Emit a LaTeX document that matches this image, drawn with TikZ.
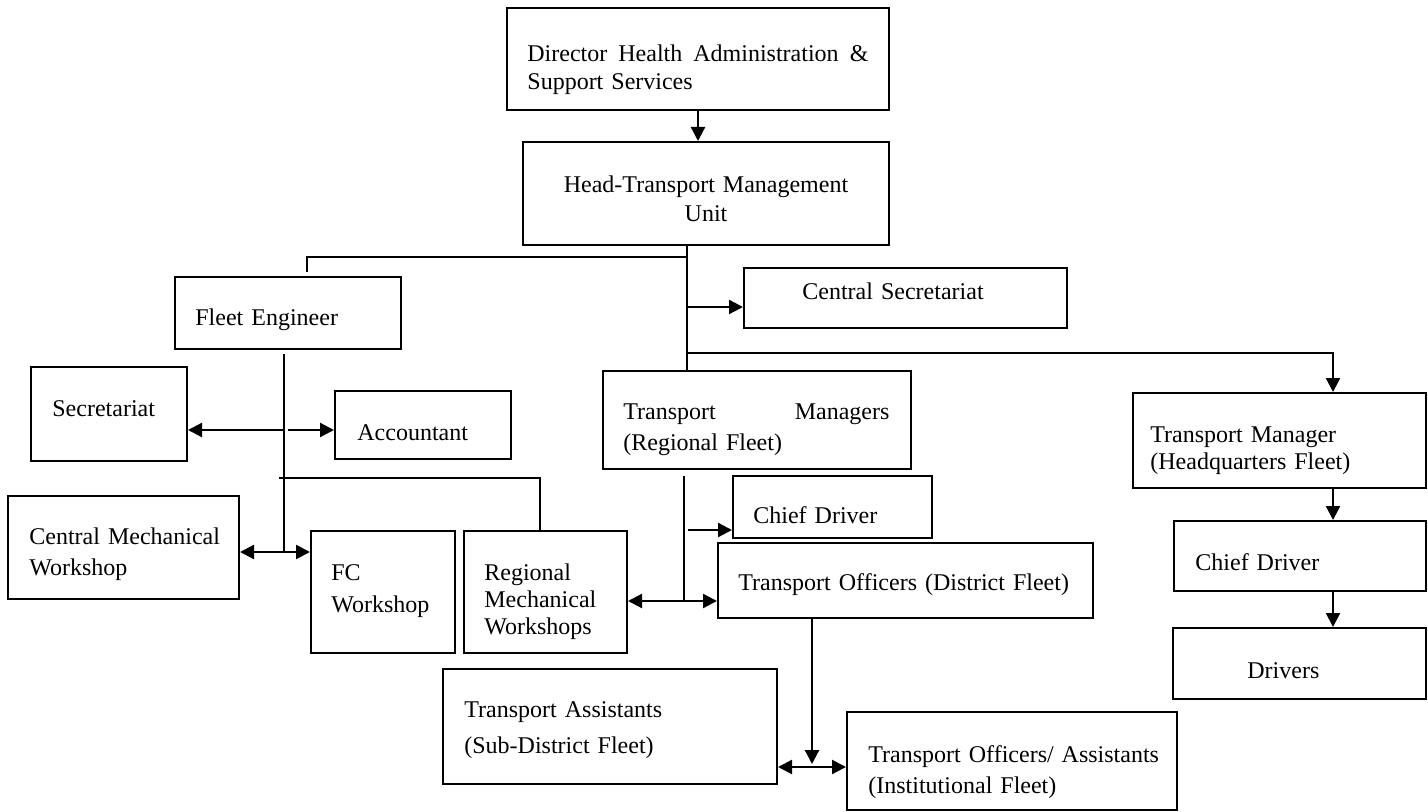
\documentclass[tikz,border=0pt]{standalone}
\usepackage{fontspec}
\setmainfont{Liberation Serif}
\usetikzlibrary{fit}
\usetikzlibrary{arrows.meta}

\tikzset{
  box/.style={draw,line width=1pt,inner sep=0pt},
  txt/.style={anchor=base west,inner sep=0pt,text width=190pt,align=left,font=\fontsize{12}{15.5}\selectfont},
  ln/.style={line width=1.1pt},
  arr/.style={line width=1.1pt,-{Triangle[length=7pt,width=7pt]}},
  darr/.style={line width=1.1pt,{Triangle[length=7pt,width=7pt]}-{Triangle[length=7pt,width=7pt]}}
}

\begin{document}
\begin{tikzpicture}[x=0.5pt,y=-0.5pt]
        \useasboundingbox (0,0) rectangle (1428,812);

        \node[box,fit={(507,8) (889,110)}] (dir) {};
        \node[box,fit={(523,142) (889,245)}] (head) {};
        \node[box,fit={(175,277) (401,349)}] (fleet) {};
        \node[box,fit={(744,268) (1067,328)}] (csec) {};
        \node[box,fit={(31,367) (187,461)}] (sec) {};
        \node[box,fit={(335,391) (511,459)}] (acc) {};
        \node[box,fit={(603,371) (911,469)}] (tmreg) {};
        \node[box,fit={(1133,393) (1426,488)}] (tmhq) {};
        \node[box,fit={(8,496) (239,599)}] (cmw) {};
        \node[box,fit={(733,476) (932,538)}] (cdmid) {};
        \node[box,fit={(1174,521) (1426,591)}] (cdhq) {};
        \node[box,fit={(311,531) (455,653)}] (fcw) {};
        \node[box,fit={(464,531) (627,653)}] (rmw) {};
        \node[box,fit={(718,543) (1093,618)}] (todist) {};
        \node[box,fit={(1173,628) (1426,699)}] (drv) {};
        \node[box,fit={(443,669) (777,784)}] (tasst) {};
        \node[box,fit={(847,712) (1177,810)}] (toinst) {};

        \node[txt] (dir-t) at (527,62) {\makebox[170.5pt]{Director\hfill Health\hfill Administration\hfill \&}\\[-1.5pt]Support Services};
        \node[txt,anchor=base,align=center] (head-t) at (706,193) {Head-Transport Management\\[-1pt]Unit};
        \node[txt] (fleet-t) at (195,326) {Fleet Engineer};
        \node[txt] (csec-t) at (802,300) {Central Secretariat};
        \node[txt] (sec-t) at (52,416) {Secretariat};
        \node[txt] (acc-t) at (357,440) {Accountant};
        \node[txt] (tmreg-t) at (623,419) {\makebox[133pt]{Transport\hfill Managers}\\(Regional Fleet)};
        \node[txt] (tmhq-t) at (1150,442) {Transport Manager\\[-2pt](Headquarters Fleet)};
        \node[txt] (cmw-t) at (29,544) {Central Mechanical\\Workshop};
        \node[txt] (cdmid-t) at (753,523) {Chief Driver};
        \node[txt] (cdhq-t) at (1195,570) {Chief Driver};
        \node[txt] (fcw-t) at (331,580) {FC\\[0.5pt]Workshop};
        \node[txt] (rmw-t) at (484,580) {Regional\\[-2pt]Mechanical\\[-2pt]Workshops};
        \node[txt] (todist-t) at (738,590) {Transport Officers (District Fleet)};
        \node[txt] (drv-t) at (1247,678) {Drivers};
        \node[txt] (tasst-t) at (464,717) {Transport Assistants\\[2.5pt](Sub-District Fleet)};
        \node[txt] (toinst-t) at (868,762) {Transport Officers/ Assistants\\(Institutional Fleet)};

        \coordinate (t0) at (687,245);
        \coordinate (t1) at (687,257);
        \coordinate (t2) at (687,307);
        \coordinate (t3) at (687,353);
        \coordinate (fe) at (307,272);
        \coordinate (hq) at (1333,353);
        \coordinate (f0) at (284,354);
        \coordinate (f1) at (284,430);
        \coordinate (f2) at (284,478);
        \coordinate (f3) at (284,552);
        \coordinate (rm) at (540,478);
        \coordinate (r0) at (684,476);
        \coordinate (r1) at (684,530);
        \coordinate (r2) at (684,601);
        \coordinate (d0) at (812,618);
        \coordinate (d1) at (812,767);

        \draw[arr] (dir.south) -- (dir.south |- head.north);
        \draw[ln] (t0) -- (t0 |- tmreg.north);
        \draw[ln] (t1) -| (fe);
        \draw[arr] (t2) -- (t2 -| csec.west);
        \draw[arr] (t3) -- (hq) -- (hq |- tmhq.north);
        \draw[arr] (hq |- tmhq.south) -- (hq |- cdhq.north);
        \draw[arr] (hq |- cdhq.south) -- (hq |- drv.north);
        \draw[ln] (f0) -- (f3);
        \draw[arr] (f1) -- (f1 -| sec.east);
        \draw[arr] ([xshift=2pt]f1) -- (f1 -| acc.west);
        \draw[ln] ([xshift=-2.5pt]f2) -| (rm |- rmw.north);
        \draw[darr] (f3 -| cmw.east) -- (f3 -| fcw.west);
        \draw[ln] (r0) -- (r2);
        \draw[arr] ([xshift=2pt]r1) -- (r1 -| cdmid.west);
        \draw[darr] (r2 -| rmw.east) -- (r2 -| todist.west);
        \draw[arr,shorten >=1.5pt] (d0) -- (d1);
        \draw[darr] (d1 -| tasst.east) -- (d1 -| toinst.west);
      \end{tikzpicture}
\end{document}
